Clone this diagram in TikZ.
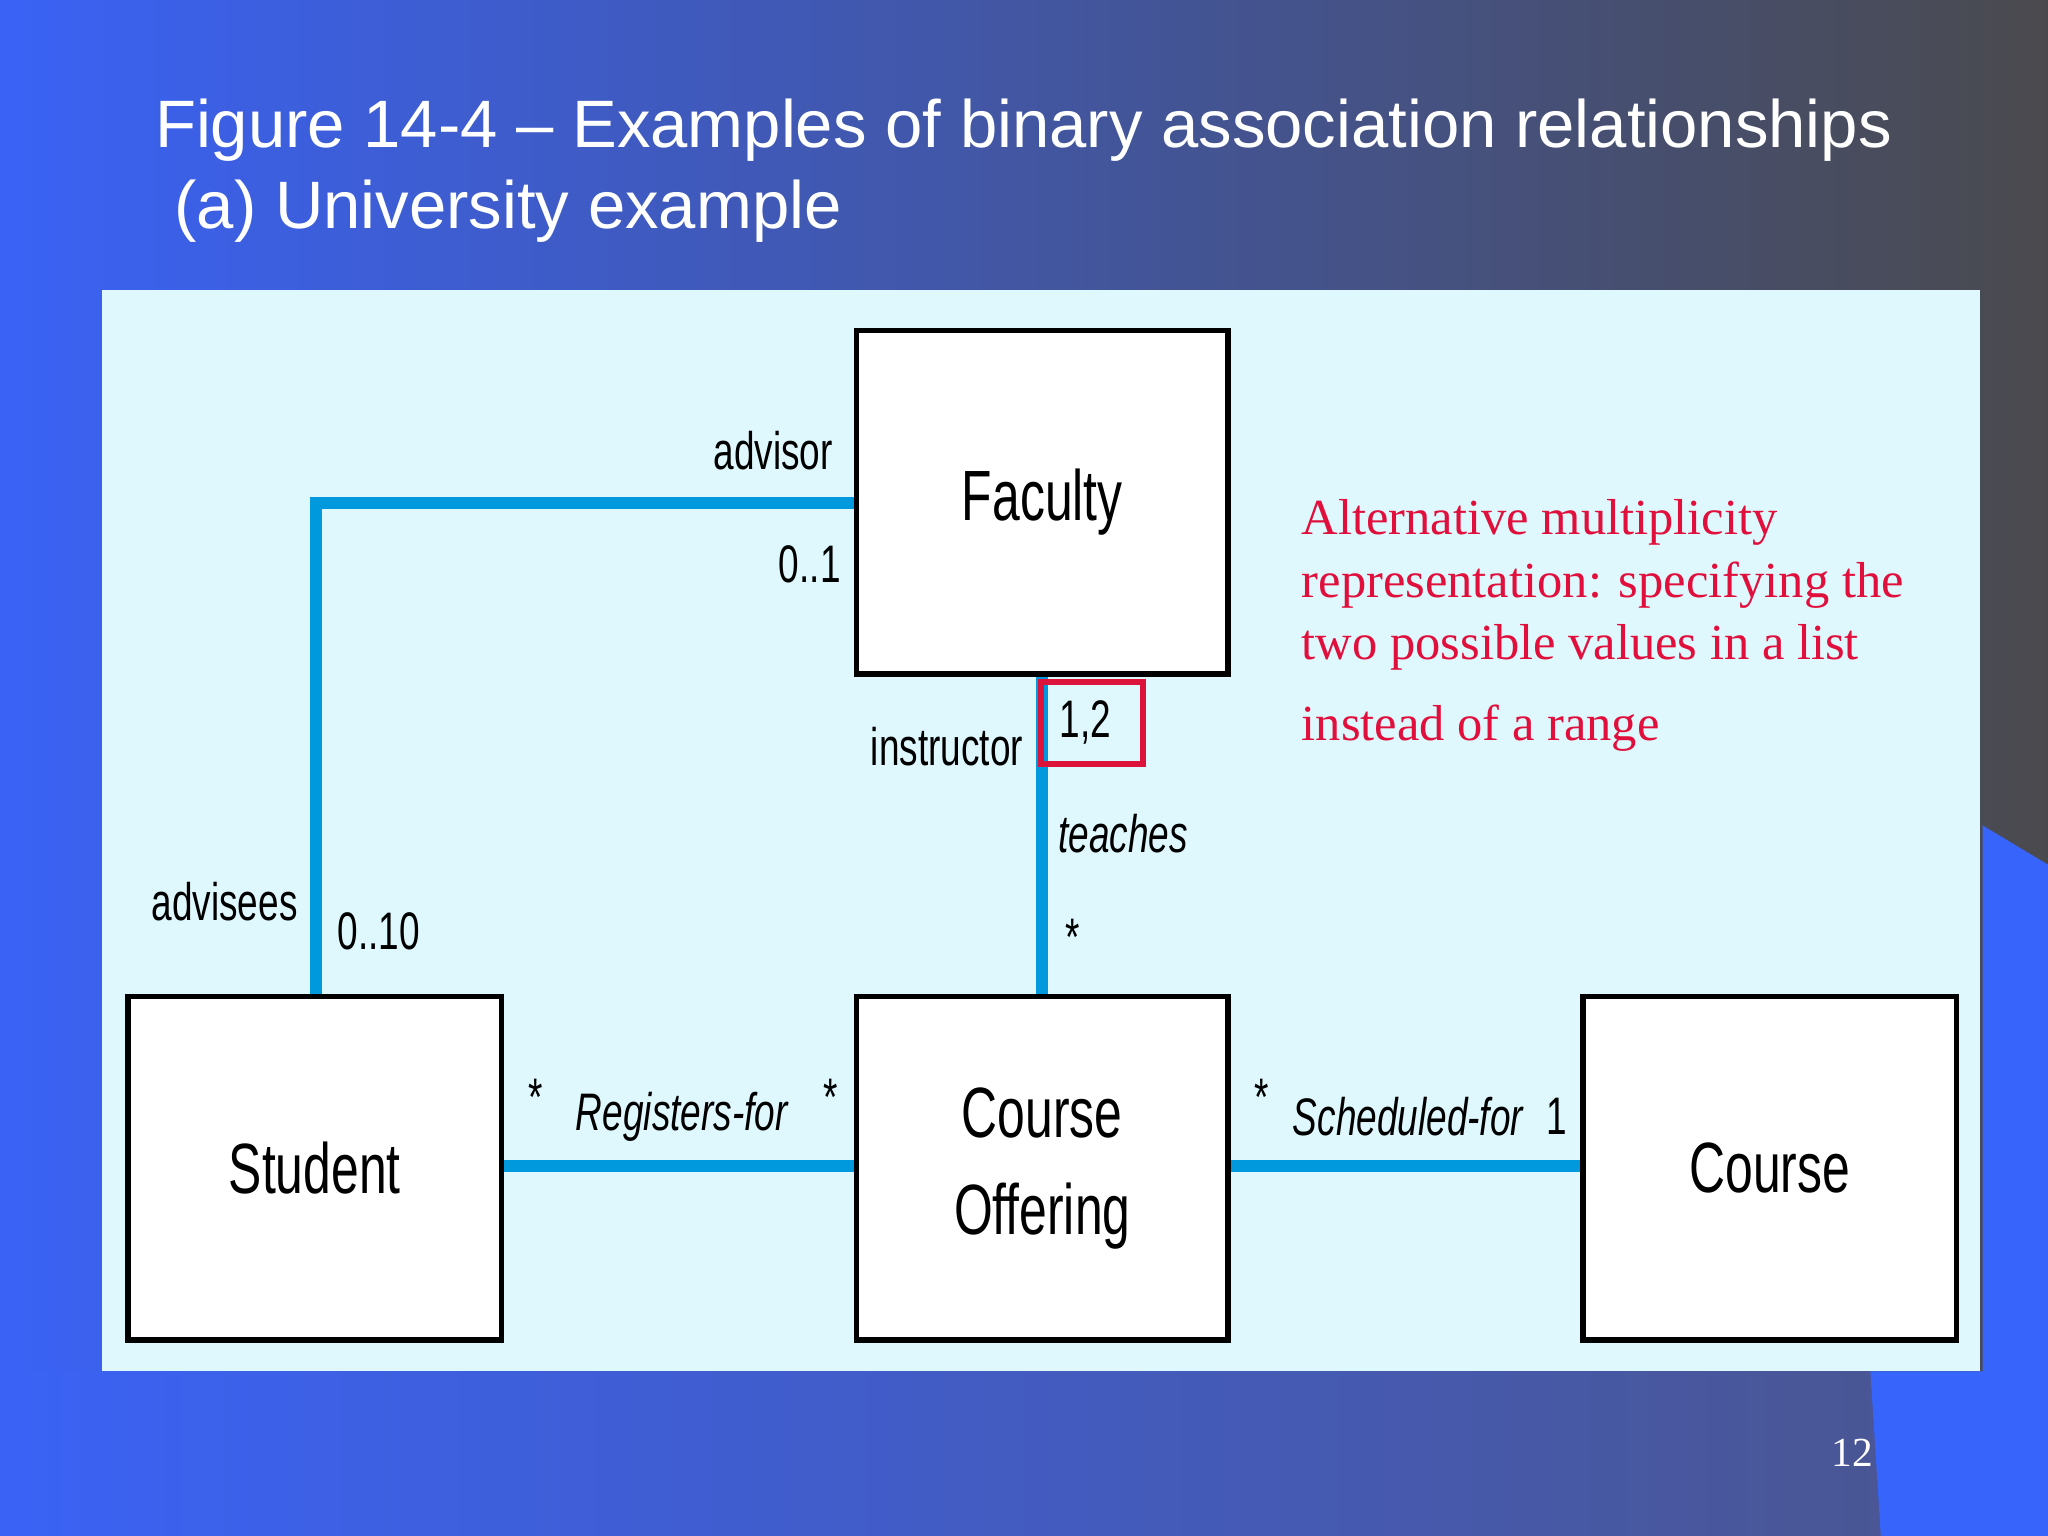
\documentclass[tikz,border=0pt]{standalone}
\usepackage{fontspec}
\setmainfont{Liberation Serif}
\setsansfont{Liberation Sans}
\definecolor{bgblue}{RGB}{58,98,245}
\definecolor{bggray}{RGB}{74,74,78}
\definecolor{bgmid}{RGB}{75,85,140}
\definecolor{edgeblue}{RGB}{55,100,250}
\definecolor{panel}{RGB}{223,248,253}
\definecolor{linkblue}{RGB}{0,153,221}
\definecolor{notered}{RGB}{225,15,60}
\definecolor{boxred}{RGB}{220,20,60}
\begin{document}
\begin{tikzpicture}[x=0.01cm,y=-0.01cm,
  cls/.style={draw=black,line width=1.2pt,fill=white,inner sep=0pt,font=\sffamily\fontsize{15.5}{19}\selectfont,align=center},
  assoc/.style={draw=linkblue,line width=2.6pt},
  lbl/.style={font=\sffamily\fontsize{11.5}{13}\selectfont,xscale=0.7,inner sep=0pt},
  ilbl/.style={lbl,font=\sffamily\itshape\fontsize{11.5}{13}\selectfont}]
\useasboundingbox (0,0) rectangle (1568,1176);
\shade[left color=bgblue,right color=bggray] (0,0) rectangle (1568,1176);
\shade[left color=bgblue,right color=bgmid] (0,1050) rectangle (1568,1176);
\fill[edgeblue] (1518,632) -- (1568,662) -- (1568,1176) -- (1440,1176) -- (1432,1050) -- (1518,1050) -- cycle;
\fill[panel] (78,222) rectangle (1516,1050);
\node[anchor=base west,text=white,font=\sffamily\fontsize{14.6}{18}\selectfont,inner sep=0pt] (t1) at (118,113) {Figure 14-4 -- Examples of binary association relationships};
\node[anchor=base west,text=white,font=\sffamily\fontsize{14.6}{18}\selectfont,inner sep=0pt] (t2) at (133,175) {(a) University example};
\node[cls,minimum width=2.84cm,minimum height=2.63cm] (fac) at (798,384.5) {\scalebox{0.7}[1]{Faculty}};
\node[cls,minimum width=2.86cm,minimum height=2.63cm] (stu) at (241,894.5) {\scalebox{0.7}[1]{Student}};
\node[cls,minimum width=2.84cm,minimum height=2.63cm] (co) at (798,894.5) {\scalebox{0.7}[1]{Course}\\[2pt]\scalebox{0.7}[1]{Offering}};
\node[cls,minimum width=2.86cm,minimum height=2.63cm] (cou) at (1355,894.5) {\scalebox{0.7}[1]{Course}};
\coordinate (corner) at (242,385);
\coordinate (h) at (0,893);
\draw[assoc] (fac.west |- corner) -- (corner) -- (corner |- stu.north);
\draw[assoc] (fac.south) -- (co.north);
\draw[assoc] (stu.east |- h) -- (co.west |- h);
\draw[assoc] (co.east |- h) -- (cou.west |- h);
\node[lbl] (a1) at (592,345) {advisor};
\node[lbl] (a2) at (620,432) {0..1};
\node[lbl] (a3) at (725,572) {instructor};
\node[lbl] (a4) at (831,553) {1,2};
\node[draw=boxred,line width=1.3pt,minimum width=0.78cm,minimum height=0.63cm] (rb) at (836,553.5) {};
\node[ilbl] (a5) at (860,638) {teaches};
\node[lbl] (a6) at (821,718) {*};
\node[lbl] (a7) at (172,690) {advisees};
\node[lbl] (a8) at (290,713) {0..10};
\node[lbl] (a9) at (410,840) {*};
\node[ilbl] (a10) at (522,855) {Registers-for};
\node[lbl] (a11) at (636,840) {*};
\node[lbl] (a12) at (966,840) {*};
\node[ilbl] (a13) at (1078,855) {Scheduled-for};
\node[lbl] (a14) at (1192,855) {1};
\node[anchor=north west,align=left,text=notered,font=\fontsize{11}{13.6}\selectfont,inner sep=0pt] (note) at (996,382) {Alternative multiplicity\\representation: specifying the\\two possible values in a list\\[4pt]instead of a range};
\node[text=white,font=\fontsize{9}{10}\selectfont] (pg) at (1418,1112) {12};
\end{tikzpicture}
\end{document}
